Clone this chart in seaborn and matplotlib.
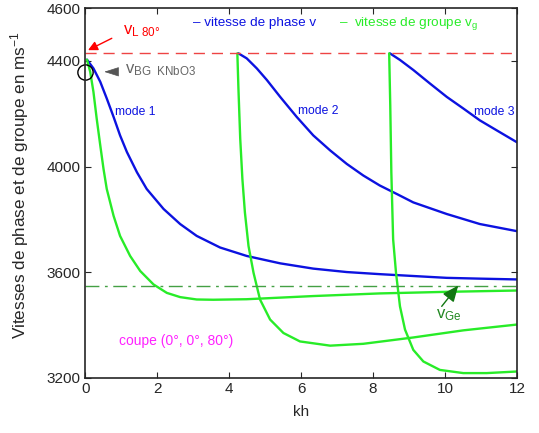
import matplotlib
matplotlib.use('Agg')
import matplotlib.pyplot as plt
import seaborn as sns
import pandas as pd

# ==========================================
# DONNEES
# ==========================================

# vitesse de phase, modes 1 a 3
kh_v1 = [0.05, 0.23, 0.42, 0.60, 0.79, 0.97, 1.16, 1.44, 1.71, 2.18, 2.64, 3.10,
         3.75, 4.49, 5.42, 6.34, 7.27, 8.19, 9.12, 10.05, 10.97, 12.0]
v1 = [4405, 4372, 4321, 4258, 4188, 4118, 4055, 3978, 3915, 3839, 3782, 3737,
      3693, 3661, 3633, 3613, 3600, 3592, 3585, 3578, 3575, 3572]

kh_v2 = [4.26, 4.49, 4.77, 5.05, 5.42, 5.88, 6.34, 6.81, 7.27, 7.73, 8.19, 8.66,
         9.12, 10.05, 10.97, 12.0]
v2 = [4429, 4410, 4372, 4328, 4264, 4188, 4118, 4061, 4010, 3966, 3928, 3896,
      3864, 3820, 3782, 3755]

kh_v3 = [8.47, 8.75, 9.12, 9.58, 10.05, 10.51, 10.97, 11.44, 12.0]
v3 = [4429, 4404, 4366, 4315, 4264, 4220, 4175, 4137, 4092]

# vitesse de groupe, modes 1 a 3
kh_g1 = [0.05, 0.14, 0.23, 0.32, 0.42, 0.51, 0.60, 0.79, 0.97, 1.25, 1.53, 1.90,
         2.27, 2.64, 3.10, 3.56, 4.49, 6.34, 8.19, 10.05, 12.0]
g1 = [4405, 4359, 4283, 4182, 4080, 3991, 3915, 3813, 3737, 3661, 3604, 3553,
      3521, 3505, 3496, 3495, 3497, 3509, 3519, 3525, 3530]

kh_g2 = [4.23, 4.26, 4.31, 4.37, 4.44, 4.54, 4.68, 4.86, 5.14, 5.51, 5.97, 6.81,
         7.73, 9.12, 10.51, 12.0]
g2 = [4429, 4296, 4105, 3953, 3826, 3699, 3597, 3496, 3420, 3369, 3337, 3321,
      3328, 3352, 3379, 3401]

kh_g3 = [8.45, 8.48, 8.51, 8.56, 8.64, 8.75, 8.89, 9.12, 9.40, 9.86, 10.51, 11.16, 12.0]
g3 = [4429, 4232, 3978, 3724, 3597, 3470, 3382, 3305, 3261, 3229, 3217, 3217, 3223]

v_L80 = 4429
v_Ge = 3549
v_BG = 4359

# ==========================================
# FIGURE
# ==========================================

sns.set_style('ticks')
plt.rcParams['font.family'] = ['Liberation Sans', 'DejaVu Sans']
plt.rcParams['mathtext.fontset'] = 'custom'
plt.rcParams['mathtext.rm'] = 'Liberation Sans'
plt.rcParams['mathtext.it'] = 'Liberation Sans:italic'

fig = plt.figure(figsize=(5.39, 4.33), dpi=100)
ax = fig.add_axes([0.158, 0.128, 0.801, 0.853])

bleu = '#0c12e0'
vert = '#28ec28'

for kh, v in [(kh_v1, v1), (kh_v2, v2), (kh_v3, v3)]:
    df = pd.DataFrame({'kh': kh, 'v': v})
    sns.lineplot(data=df, x='kh', y='v', ax=ax, color=bleu, lw=1.7, sort=False,
                 solid_joinstyle='round')

for kh, v in [(kh_g1, g1), (kh_g2, g2), (kh_g3, g3)]:
    df = pd.DataFrame({'kh': kh, 'v': v})
    sns.lineplot(data=df, x='kh', y='v', ax=ax, color=vert, lw=1.7, sort=False,
                 solid_joinstyle='round')

ax.axhline(v_L80, color='#ee4444', lw=1.0, ls=(0, (8, 5)))
ax.axhline(v_Ge, color='#44a044', lw=1.0, ls=(0, (10, 4, 2, 4)))

# cercle v_BG
ax.plot([0.0], [v_BG], 'o', ms=11, mfc='none', mec='black', mew=1.0, clip_on=False)

# annotations
ax.annotate('', xy=(0.08, 4441), xytext=(0.74, 4486),
            arrowprops=dict(arrowstyle='-|>', color='red', lw=1.0, mutation_scale=14,
                            shrinkA=0, shrinkB=0))
ax.text(1.06, 4503, r'v$_{\mathrm{L\ 80°}}$', color='red', fontsize=12)

ax.annotate('', xy=(0.53, v_BG), xytext=(0.9, v_BG),
            arrowprops=dict(arrowstyle='-|>,head_length=0.94,head_width=0.3',
                            color='#555555', lw=0.5, mutation_scale=10,
                            shrinkA=0, shrinkB=0))
ax.text(1.11, 4352, r'v$_{\mathrm{BG\ \ KNbO3}}$', color='#666666', fontsize=12)

ax.annotate('', xy=(10.37, v_Ge), xytext=(9.91, 3470),
            arrowprops=dict(arrowstyle='-|>,head_length=0.7,head_width=0.3',
                            color='#117711', lw=1.0, mutation_scale=14,
                            shrinkA=0, shrinkB=0))
ax.text(9.75, 3425, r'v$_{\mathrm{Ge}}$', color='#228822', fontsize=12)

ax.text(0.83, 4196, 'mode 1', color=bleu, fontsize=8.7)
ax.text(5.92, 4198, 'mode 2', color=bleu, fontsize=8.7)
ax.text(10.81, 4196, 'mode 3', color=bleu, fontsize=8.7)

ax.text(3.0, 4533, '– vitesse de phase v', color=bleu, fontsize=9.7)
ax.text(7.05, 4533, r'–  vitesse de groupe v$_{\mathrm{g}}$', color=vert, fontsize=9.7)

ax.text(0.95, 3322, 'coupe (0°, 0°, 80°)', color='#ff22ff', fontsize=10)

ax.set_xlim(0, 12)
ax.set_ylim(3200, 4600)
ax.set_xticks([0, 2, 4, 6, 8, 10, 12])
ax.set_yticks([3200, 3600, 4000, 4400, 4600])
ax.tick_params(direction='in', top=True, right=True, labelsize=11, length=4)
ax.set_xlabel('kh', fontsize=11)
ax.set_ylabel(r'Vitesses de phase et de groupe en ms$^{-1}$', fontsize=12.3)
ax.yaxis.set_label_coords(-0.125, 0.52)
ax.xaxis.set_label_coords(0.5, -0.075)
for s in ax.spines.values():
    s.set_linewidth(1.2)

fig.savefig('out.png', dpi=100)
